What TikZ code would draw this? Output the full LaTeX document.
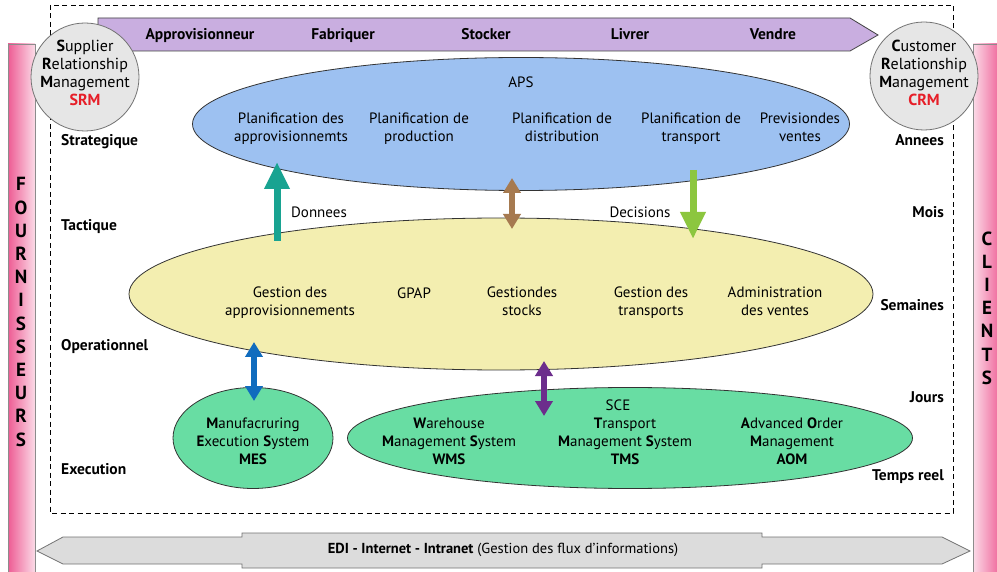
\documentclass[tikz,border=0pt]{standalone}
\usepackage{fontspec}
\setmainfont{PT Sans}
\usetikzlibrary{shapes.geometric,arrows.meta}
\definecolor{pinkd}{RGB}{238,92,148}
\definecolor{bandc}{RGB}{201,174,224}
\definecolor{apsc}{RGB}{157,193,241}
\definecolor{yelc}{RGB}{243,238,176}
\definecolor{grnc}{RGB}{104,221,163}
\definecolor{circc}{RGB}{230,230,230}
\definecolor{srmred}{RGB}{230,30,40}
\definecolor{tealc}{RGB}{24,163,145}
\definecolor{brownc}{RGB}{166,122,80}
\definecolor{limec}{RGB}{140,198,63}
\definecolor{bluec}{RGB}{16,108,190}
\definecolor{purc}{RGB}{108,45,140}
\definecolor{edic}{RGB}{220,220,220}
\begin{document}
\begin{tikzpicture}[x=1pt,y=-1pt,
  font=\fontsize{15}{18}\selectfont,
  st/.style={execute at begin node=\strut, execute at end node=\strut},
  lvl/.style={st, font=\bfseries\fontsize{15.5}{18}\selectfont, anchor=west, inner sep=0},
  lvlr/.style={st, font=\bfseries\fontsize{15.5}{18}\selectfont, anchor=east, inner sep=0},
  bandtxt/.style={st, font=\bfseries\fontsize{15.5}{18}\selectfont, inner sep=0},
  ell/.style={ellipse, draw=black!80, line width=0.8pt, inner sep=0},
  txt/.style={st, align=center, inner sep=0, font=\fontsize{15}{18}\selectfont},
  ctxt/.style={st, align=center, inner sep=0, font=\fontsize{16}{18}\selectfont},
  vert/.style={align=center, inner sep=0, font=\bfseries\fontsize{19}{23.2}\selectfont},
  circ/.style={circle, draw=black!55, line width=0.8pt, fill=circc, minimum size=108pt, inner sep=0},
  bigarrow/.style={line width=7pt, -{Triangle[width=24pt,length=27pt]}},
  dblarrow/.style={line width=5.5pt, {Triangle[width=17pt,length=15pt]}-{Triangle[width=17pt,length=15pt]}},
  flab/.style={st, inner sep=0, font=\fontsize{15}{18}\selectfont}
]
\useasboundingbox (0,0) rectangle (997,572);
\fill[white] (0,0) rectangle (997,572);

% side bars
\draw[draw=black!45, line width=0.6pt, left color=pinkd, right color=pinkd!22] (8,44) rectangle (35,576);
\draw[draw=black!45, line width=0.6pt, left color=pinkd!22, right color=pinkd] (973,44) rectangle (1002,576);
\node[vert] (four) at (21,312) {F\\O\\U\\R\\N\\I\\S\\S\\E\\U\\R\\S};
\node[vert] (cli) at (987,308) {C\\L\\I\\E\\N\\T\\S};

% dashed frame
\draw[dashed, line width=0.9pt, dash pattern=on 5pt off 3.5pt] (50,5) rectangle (953,513);

% process band
\draw[fill=bandc, draw=black!75, line width=0.8pt] (98,18) -- (850,18) -- (878,35) -- (850,51) -- (98,51) -- cycle;
\node[bandtxt] (b1) at (200,36) {Approvisionneur};
\node[bandtxt] (b2) at (343,36) {Fabriquer};
\node[bandtxt] (b3) at (486,36) {Stocker};
\node[bandtxt] (b4) at (630,36) {Livrer};
\node[bandtxt] (b5) at (773,36) {Vendre};

% circles
\node[circ] (srm) at (85,77) {};
\node[ctxt] at (85,75) {\textbf{S}upplier\\\textbf{R}elationship\\\textbf{M}anagement\\\textcolor{srmred}{\textbf{SRM}}};
\node[circ] (crm) at (924,76) {};
\node[ctxt] at (924,75) {\textbf{C}ustomer\\\textbf{R}elationship\\\textbf{M}anagement\\\textcolor{srmred}{\textbf{CRM}}};

% APS ellipse
\node[ell, fill=apsc, minimum width=657pt, minimum height=133pt] (aps) at (521,124) {};
\node[txt] (apst) at (521,84) {APS};
\node[txt] (p1) at (291,130) {Planification des\\approvisionnemts};
\node[txt] (p2) at (419,130) {Planification de\\production};
\node[txt] (p3) at (562,130) {Planification de\\distribution};
\node[txt] (p4) at (691,130) {Planification de\\transport};
\node[txt] (p5) at (800,130) {Previsiondes\\ventes};

% yellow ellipse
\node[ell, fill=yelc, minimum width=744pt, minimum height=152pt] (gest) at (501,294) {};
\node[txt] (g1) at (290,304) {Gestion des\\approvisionnements};
\node[txt] (g2) at (414,295) {GPAP};
\node[txt] (g3) at (522,304) {Gestiondes\\stocks};
\node[txt] (g4) at (651,304) {Gestion des\\transports};
\node[txt] (g5) at (775,304) {Administration\\des ventes};

% green ellipses
\node[ell, fill=grnc, minimum width=160pt, minimum height=101pt] (mes) at (253,438) {};
\node[txt] (mest) at (253,444) {\textbf{M}anufacruring\\\textbf{E}xecution \textbf{S}ystem\\\textbf{MES}};
\node[ell, fill=grnc, minimum width=565pt, minimum height=101pt] (sce) at (630,438) {};
\node[txt] (scet) at (618,407) {SCE};
\node[txt] (wms) at (449,444) {\textbf{W}arehouse\\\textbf{M}anagement \textbf{S}ystem\\\textbf{WMS}};
\node[txt] (tms) at (625,444) {\textbf{T}ransport\\\textbf{M}anagement \textbf{S}ystem\\\textbf{TMS}};
\node[txt] (aom) at (792,444) {\textbf{A}dvanced \textbf{O}rder\\\textbf{M}anagement\\\textbf{AOM}};

% arrows
\coordinate (ta) at (277,241);
\coordinate (tb) at (277,162);
\draw[bigarrow, tealc] (ta) -- (tb);
\coordinate (ga) at (693,170);
\coordinate (gb) at (693,239);
\draw[bigarrow, limec] (ga) -- (gb);
\coordinate (ba) at (512,178);
\coordinate (bb) at (512,229);
\draw[dblarrow, brownc] (ba) -- (bb);
\coordinate (ua) at (254,342);
\coordinate (ub) at (254,401);
\draw[dblarrow, bluec] (ua) -- (ub);
\coordinate (va) at (544,361);
\coordinate (vb) at (544,416);
\draw[dblarrow, purc] (va) -- (vb);

\node[flab] (don) at (319,214) {Donnees};
\node[flab] (dec) at (640,214) {Decisions};

% level labels
\node[lvl] (l1) at (61,142) {Strategique};
\node[lvl] (l2) at (61,227) {Tactique};
\node[lvl] (l3) at (61,347) {Operationnel};
\node[lvl] (l4) at (61,471) {Execution};
\node[lvlr] (r1) at (944,142) {Annees};
\node[lvlr] (r2) at (944,214) {Mois};
\node[lvlr] (r3) at (944,307) {Semaines};
\node[lvlr] (r4) at (944,399) {Jours};
\node[lvlr] (r5) at (944,477) {Temps reel};

% bottom information flow arrow
\draw[fill=edic, draw=black!55, line width=0.8pt]
  (37,551) -- (63,537) -- (242,537) -- (242,533) -- (762,533) -- (762,537) -- (942,537)
  -- (970,551) -- (942,564) -- (762,564) -- (762,568) -- (242,568) -- (242,564) -- (63,564) -- cycle;
\node[inner sep=0, font=\fontsize{14.5}{16}\selectfont] (edi) at (503,550) {\textbf{EDI - Internet - Intranet} (Gestion des flux d’informations)};
\end{tikzpicture}
\end{document}
